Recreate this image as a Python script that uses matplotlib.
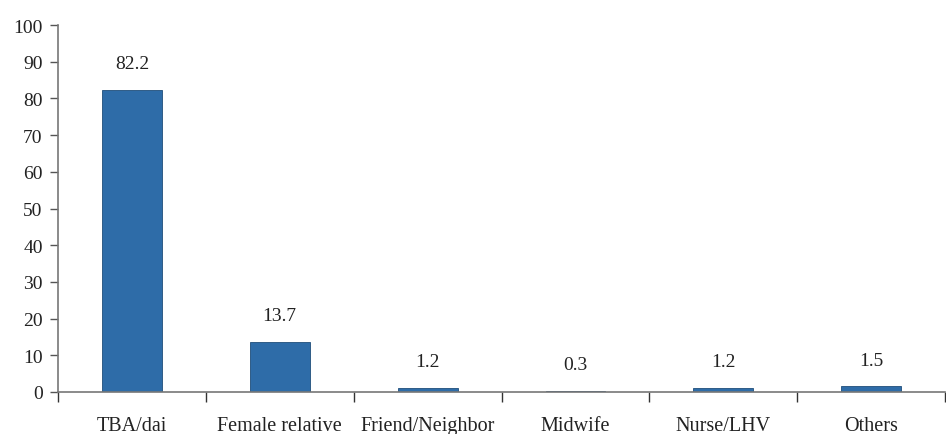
import numpy as np
import matplotlib.pyplot as plt

categories = ["TBA/dai", "Female relative", "Friend/Neighbor", "Midwife", "Nurse/LHV", "Others"]
values = [82.2, 13.7, 1.2, 0.3, 1.2, 1.5]
labels = ["82.2", "13.7", "1.2", "0.3", "1.2", "1.5"]

plt.rcParams['font.family'] = ['Liberation Serif', 'DejaVu Serif']

fig = plt.figure(figsize=(9.46, 4.35), dpi=100)
ax = fig.add_axes([58 / 946, 1 - 393 / 435, 1 - 58 / 946 - 0.001, (393 - 26) / 435])

x = np.arange(len(categories))
bars = ax.bar(x, values, width=0.405, color='#2E6CA8', edgecolor='#1F4E7A', linewidth=0.6)

for xi, v, lab in zip(x, values, labels):
    ax.annotate(lab, (xi, v), xytext=(0, 19), textcoords='offset points',
                ha='center', va='center', fontsize=14, color='#222222')

ax.set_xlim(-0.5, len(categories) - 0.5)
ax.set_ylim(0, 100)
ax.set_yticks(np.arange(0, 101, 10))
ax.tick_params(axis='y', direction='out', length=6, width=1, color='#555555',
               labelsize=14, labelcolor='#222222', pad=5)

ax.set_xticks(x)
ax.set_xticklabels(categories)
ax.set_xticks(np.arange(-0.5, len(categories), 1.0), minor=True)
ax.tick_params(axis='x', which='major', length=0, labelsize=14.5, labelcolor='#222222', pad=17)
ax.tick_params(axis='x', which='minor', direction='out', length=7, width=1, color='#333333')

for s in ['top', 'right']:
    ax.spines[s].set_visible(False)
ax.spines['left'].set_color('#777777')
ax.spines['bottom'].set_color('#777777')
ax.spines['left'].set_linewidth(1.2)
ax.spines['bottom'].set_linewidth(1.2)

fig.savefig('out.png', dpi=100)
